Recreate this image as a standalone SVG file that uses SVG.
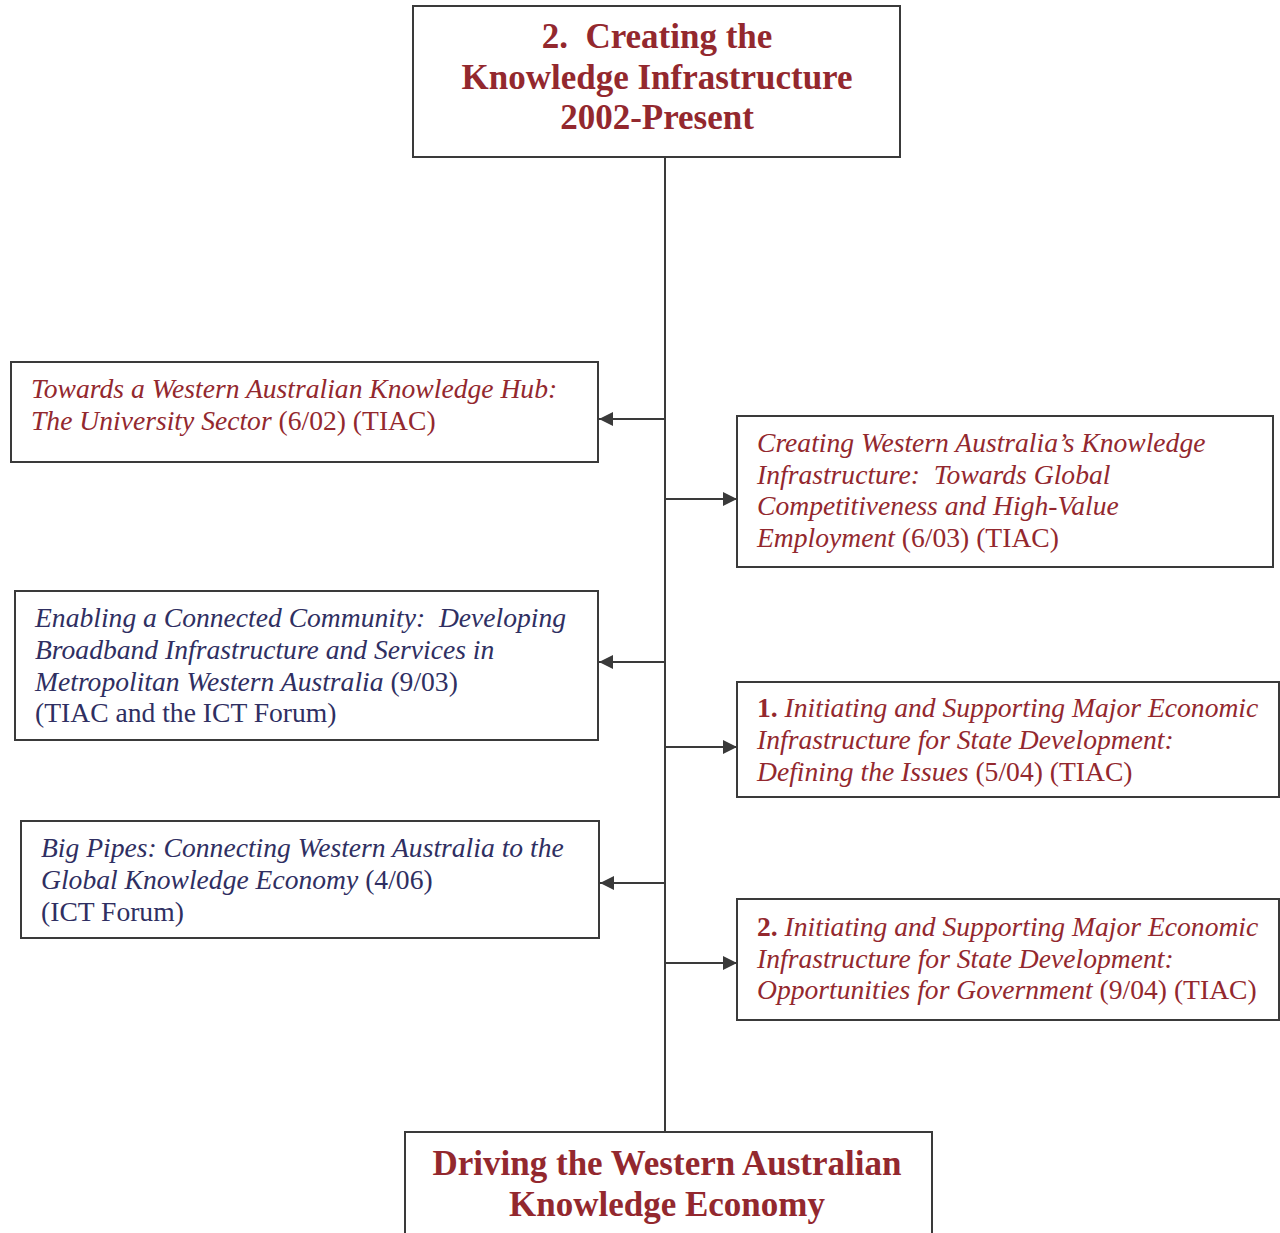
<svg xmlns="http://www.w3.org/2000/svg" width="1280" height="1233" viewBox="0 0 1280 1233">
<style>
text{white-space:pre}
.box{fill:#fff;stroke:#3a3a3a;stroke-width:2}
.t{font-family:"Liberation Serif","Times New Roman",serif;font-size:27.6px}
.h{font-family:"Liberation Serif","Times New Roman",serif;font-size:35px;font-weight:bold;fill:#93282e;text-anchor:middle}
.red{fill:#93282e}
.blue{fill:#2f2f62}
.i{font-style:italic}
.b{font-weight:bold}
.c{stroke:#3a3a3a;stroke-width:2;fill:none}
</style>
<defs>
<marker id="ah" viewBox="0 0 14 14" refX="14" refY="7" markerWidth="14" markerHeight="14" markerUnits="userSpaceOnUse" orient="auto">
<path d="M0,0 L14,7 L0,14 Z" fill="#3a3a3a"/>
</marker>
</defs>
<rect width="1280" height="1233" fill="#fff"/>
<g id="connectors">
<line class="c" x1="665" y1="157" x2="665" y2="1132"/>
<line class="c" x1="665" y1="419" x2="599" y2="419" marker-end="url(#ah)"/>
<line class="c" x1="665" y1="499" x2="737" y2="499" marker-end="url(#ah)"/>
<line class="c" x1="665" y1="662" x2="599" y2="662" marker-end="url(#ah)"/>
<line class="c" x1="665" y1="747" x2="737" y2="747" marker-end="url(#ah)"/>
<line class="c" x1="665" y1="883" x2="600" y2="883" marker-end="url(#ah)"/>
<line class="c" x1="665" y1="963" x2="737" y2="963" marker-end="url(#ah)"/>
</g>
<g id="top">
<rect class="box" x="413" y="6" width="487" height="151"/>
<text class="h" x="657" y="48" xml:space="preserve">2.  Creating the</text>
<text class="h" x="657" y="89">Knowledge Infrastructure</text>
<text class="h" x="657" y="129">2002-Present</text>
</g>
<g id="left1">
<rect class="box" x="11" y="362" width="587" height="100"/>
<text class="t red" x="31" y="398"><tspan class="i">Towards a Western Australian Knowledge Hub:</tspan></text>
<text class="t red" x="31" y="430"><tspan class="i">The University Sector</tspan> (6/02) (TIAC)</text>
</g>
<g id="right1">
<rect class="box" x="737" y="416" width="536" height="151"/>
<text class="t red" x="757" y="452"><tspan class="i">Creating Western Australia’s Knowledge</tspan></text>
<text class="t red" x="757" y="484" xml:space="preserve"><tspan class="i">Infrastructure:  Towards Global</tspan></text>
<text class="t red" x="757" y="515"><tspan class="i">Competitiveness and High-Value</tspan></text>
<text class="t red" x="757" y="547"><tspan class="i">Employment</tspan> (6/03) (TIAC)</text>
</g>
<g id="left2">
<rect class="box" x="15" y="591" width="583" height="149"/>
<text class="t blue" x="35" y="627" xml:space="preserve"><tspan class="i">Enabling a Connected Community:  Developing</tspan></text>
<text class="t blue" x="35" y="659"><tspan class="i">Broadband Infrastructure and Services in</tspan></text>
<text class="t blue" x="35" y="691"><tspan class="i">Metropolitan Western Australia</tspan> (9/03)</text>
<text class="t blue" x="35" y="722">(TIAC and the ICT Forum)</text>
</g>
<g id="right2">
<rect class="box" x="737" y="682" width="542" height="115"/>
<text class="t red" x="757" y="717"><tspan class="b">1.</tspan> <tspan class="i">Initiating and Supporting Major Economic</tspan></text>
<text class="t red" x="757" y="749"><tspan class="i">Infrastructure for State Development:</tspan></text>
<text class="t red" x="757" y="781"><tspan class="i">Defining the Issues</tspan> (5/04) (TIAC)</text>
</g>
<g id="left3">
<rect class="box" x="21" y="821" width="578" height="117"/>
<text class="t blue" x="41" y="857"><tspan class="i">Big Pipes: Connecting Western Australia to the</tspan></text>
<text class="t blue" x="41" y="889"><tspan class="i">Global Knowledge Economy</tspan> (4/06)</text>
<text class="t blue" x="41" y="921">(ICT Forum)</text>
</g>
<g id="right3">
<rect class="box" x="737" y="899" width="542" height="121"/>
<text class="t red" x="757" y="936"><tspan class="b">2.</tspan> <tspan class="i">Initiating and Supporting Major Economic</tspan></text>
<text class="t red" x="757" y="968"><tspan class="i">Infrastructure for State Development:</tspan></text>
<text class="t red" x="757" y="999"><tspan class="i">Opportunities for Government</tspan> (9/04) (TIAC)</text>
</g>
<g id="bottom">
<rect class="box" x="405" y="1132" width="527" height="110"/>
<text class="h" x="667" y="1175">Driving the Western Australian</text>
<text class="h" x="667" y="1216">Knowledge Economy</text>
</g>
</svg>
